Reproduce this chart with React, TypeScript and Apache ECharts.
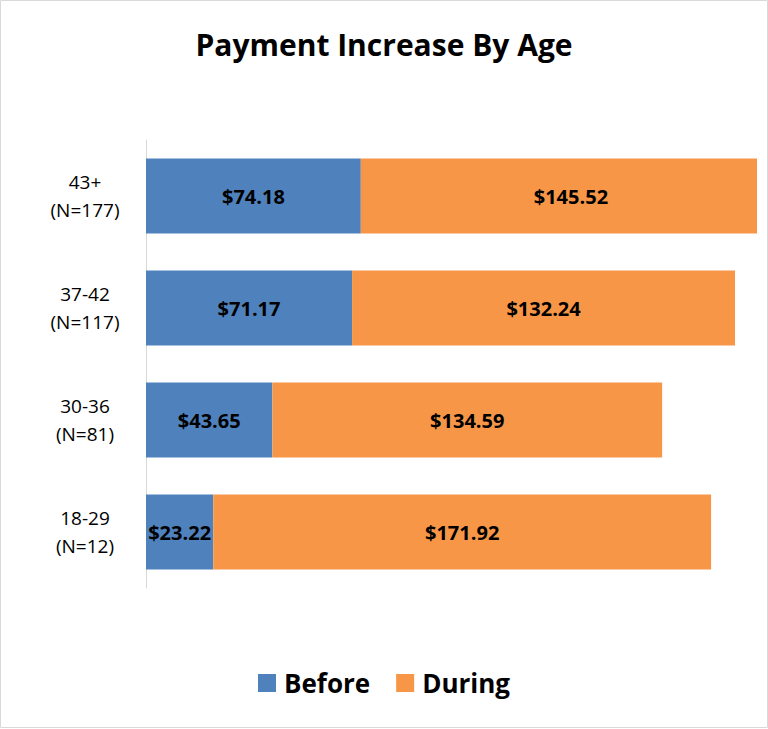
import React, { useEffect, useRef } from "react";
import * as echarts from "echarts";

const categories = ["18-29\n(N=12)", "30-36\n(N=81)", "37-42\n(N=117)", "43+\n(N=177)"];
const beforeValues = [23.22, 43.65, 71.17, 74.18];
const duringValues = [171.92, 134.59, 132.24, 145.52];
const seriesNames = ["Before", "During"];
const titleText = "Payment Increase By Age";

const FONT = "'Open Sans', sans-serif";

export default function App() {
  const ref = useRef<HTMLDivElement>(null);
  useEffect(() => {
    document.body.style.margin = "0";
    const chart = echarts.init(ref.current!, null, { renderer: "svg" });
    const labelStyle = {
      show: true,
      position: "inside",
      color: "#000",
      fontWeight: "bold",
      fontSize: 20,
      fontFamily: FONT,
      formatter: (p: any) => "$" + Number(p.value).toFixed(2),
    };
    chart.setOption({
      animation: false,
      backgroundColor: "#fff",
      title: {
        text: titleText,
        left: "center",
        top: 24,
        textStyle: { fontFamily: FONT, fontWeight: "bold", fontSize: 30, color: "#000" },
      },
      legend: {
        data: seriesNames,
        bottom: 28,
        left: "center",
        itemWidth: 18,
        itemHeight: 18,
        itemGap: 26,
        icon: "rect",
        textStyle: { fontFamily: FONT, fontWeight: "bold", fontSize: 26, color: "#000", padding: [0, 0, 0, 3] },
      },
      grid: { left: 146, right: 11, top: 140, bottom: 141 },
      xAxis: {
        type: "value",
        min: 0,
        max: 211,
        show: false,
        splitLine: { show: false },
      },
      yAxis: {
        type: "category",
        data: categories,
        axisLine: { show: true, lineStyle: { color: "#d9d9d9", width: 1 } },
        axisTick: { show: false },
        axisLabel: {
          align: "center",
          margin: 61,
          fontFamily: FONT,
          fontSize: 19,
          lineHeight: 28,
          color: "#000",
        },
      },
      graphic: [
        {
          type: "rect",
          shape: { x: 0.5, y: 0.5, width: 767, height: 727 },
          style: { fill: "none", stroke: "#d9d9d9", lineWidth: 1 },
          silent: true,
          z: 100,
        },
      ],
      series: [
        {
          name: seriesNames[0],
          type: "bar",
          stack: "total",
          barWidth: 75,
          itemStyle: { color: "#4F81BD" },
          label: labelStyle,
          data: beforeValues,
        },
        {
          name: seriesNames[1],
          type: "bar",
          stack: "total",
          barWidth: 75,
          itemStyle: { color: "#F79646" },
          label: labelStyle,
          data: duringValues.map((v, i) =>
            i === duringValues.length - 1 ? { value: v, label: { offset: [12, 0] } } : v
          ),
        },
      ],
    });
    return () => chart.dispose();
  }, []);
  return <div ref={ref} style={{ position: "absolute", left: 0, top: 0, width: 768, height: 729 }} />;
}
